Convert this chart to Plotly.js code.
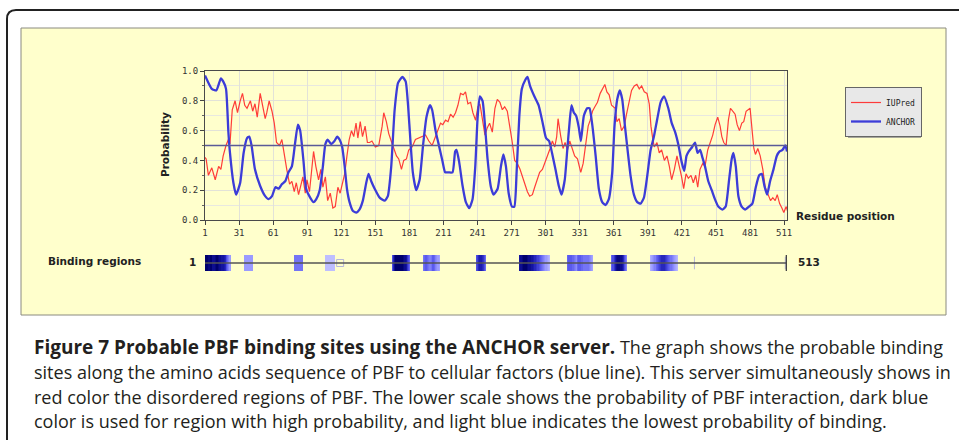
<!DOCTYPE html>
<html>
<head>
<meta charset="utf-8">
<script src="https://cdn.plot.ly/plotly-3.0.1.min.js"></script>
<style>html,body{margin:0;padding:0;background:#fff;}#chart{width:959px;height:440px;}</style>
</head>
<body>
<div id="chart"></div>
<script>
// ---- Data ----
const xTicks = [1, 31, 61, 91, 121, 151, 181, 211, 241, 271, 301, 331, 361, 391, 421, 451, 481, 511];
const yTicks = [0, 0.2, 0.4, 0.6, 0.8, 1.0];
const yTickText = ["0.0", "0.2", "0.4", "0.6", "0.8", "1.0"];
const threshold = 0.5;
const seqLength = 513;

const anchorRes = [1,7,11,15,17,19.5,21.6,23,26,28.4,32,35,38,40,42,45,49.5,54,57,60,63,66,68.6,71.6,74.5,77.5,80.4,82.8,84.8,87.8,90,93.6,96.6,99,102,104.8,107,109,112,115,117.4,119.5,121.8,124,126,128.3,131.3,134.2,137,140,143,145,147.4,150.4,154.8,159.2,162,165,168,171,174.8,177.7,179.8,182,184,187,190,193,196,199,201,204,207,210,212.5,215.4,219,221.3,222.5,224.8,227.8,230.7,233.7,236.6,239,241,243,245.4,247.8,249.8,252.8,255.2,258.7,261.6,263.7,266,268.4,271.3,273.4,275.4,277.8,280,283,285,287.2,291,294.8,298.4,301.3,304,306.6,309.6,312.5,314.9,317.8,320,322,323.7,325.8,327.8,330.2,332,334.6,337.5,339.6,342,345,347.8,350.8,353.7,356.6,359.6,361.6,364,366.3,368.4,370.8,373.4,375.7,378.7,381.6,384.6,387.5,390.5,393.4,396.3,399.3,402.2,405.2,409,412,415,418,420.7,423,425,427,430,432.5,434.8,437,439,441.3,444.2,447.2,450,453,456.6,459.5,462.5,464.8,466.3,468.4,470.7,473.6,476.6,480,483,486,489,491.3,493.6,496,498.6,501.6,504.5,507,509.5,512,513.5];
const anchorVal = [0.97,0.88,0.87,0.95,0.93,0.88,0.59,0.45,0.25,0.17,0.25,0.45,0.55,0.56,0.50,0.34,0.23,0.16,0.14,0.16,0.22,0.21,0.24,0.26,0.32,0.36,0.52,0.64,0.60,0.39,0.21,0.15,0.12,0.14,0.20,0.36,0.51,0.54,0.51,0.53,0.56,0.54,0.49,0.36,0.21,0.12,0.06,0.05,0.07,0.13,0.25,0.31,0.26,0.21,0.15,0.13,0.16,0.36,0.74,0.92,0.96,0.93,0.77,0.52,0.32,0.20,0.27,0.50,0.69,0.77,0.74,0.60,0.50,0.40,0.32,0.32,0.32,0.46,0.47,0.39,0.23,0.12,0.08,0.14,0.36,0.68,0.83,0.80,0.61,0.41,0.22,0.17,0.21,0.36,0.44,0.36,0.18,0.09,0.09,0.32,0.70,0.88,0.94,0.96,0.90,0.83,0.77,0.65,0.55,0.53,0.45,0.34,0.23,0.17,0.27,0.47,0.65,0.77,0.72,0.70,0.62,0.53,0.70,0.75,0.75,0.64,0.43,0.21,0.12,0.10,0.14,0.32,0.63,0.81,0.87,0.81,0.63,0.45,0.30,0.17,0.12,0.11,0.15,0.30,0.47,0.56,0.68,0.79,0.83,0.75,0.65,0.59,0.50,0.39,0.33,0.43,0.46,0.49,0.52,0.45,0.47,0.42,0.36,0.26,0.20,0.14,0.09,0.07,0.09,0.27,0.41,0.45,0.36,0.16,0.09,0.07,0.09,0.11,0.22,0.30,0.31,0.23,0.17,0.26,0.34,0.43,0.46,0.47,0.50,0.46];

const iupredRes = [1,2,4,7,10,13,15,17,19.5,21.6,23,25,27.5,29.6,32,34,36,38,41,43,45,47,49.6,51.6,54,55.4,57.5,60,62,64,66.6,68.7,70.8,73,75.5,77.5,79.6,81.4,83.4,85.5,87.2,89.3,90.8,93,95,96.6,98.6,101,103,104.8,107,109,111.3,113.6,115.7,118,120,122,124,126,128,130,132,134,135.6,137.7,139.7,142,144,146,148,151,154,157,158.4,160.7,162.8,165,167,169.6,171.6,174,176,178.4,180.4,183.4,186.3,189.3,192.2,195.2,198.1,201,204,206,208.4,210.4,212.8,215,217.2,219.5,221.6,223.7,226,228.4,230.4,232.5,234.9,236.9,239.3,241.3,243.1,245.2,247.5,249.6,251.6,254,256.3,258.4,260.7,262.8,264.9,267.2,269.6,271.6,273.7,276,278.4,280.4,282.5,284.9,286.9,289.3,291.3,293.7,295.7,298.1,300.2,302.5,304.9,306.9,309,310.7,311.9,314.3,316.3,318.1,320.2,322.2,324.6,326.5,329,331.9,334,336.3,338.4,340.2,342.2,344.3,346.6,349,351,353.1,354.9,356.9,359,360.7,362.2,363.7,365.7,367.8,370.2,372.2,374.6,376.6,379,381.3,383.4,385.5,387.8,390.2,392.2,393.7,395.2,396.6,399,401,403.1,405.5,407.8,409.9,411.9,414.3,416.6,418.7,420.7,422.5,424.6,426.6,429,431,433.1,434.9,436.9,439.3,441.3,443.7,446,448.1,450.2,452.5,454.6,456.1,457.8,459.9,461.9,463.7,465.7,467.8,469.6,471.6,473.7,475.4,477.5,479,481,482.8,484.3,485.7,487.8,489.9,492.2,494.3,496.6,499,501,503.1,504.9,507,509,510.7,512.8,514];
const iupredVal = [0.42,0.41,0.30,0.35,0.27,0.36,0.34,0.43,0.50,0.54,0.51,0.74,0.80,0.72,0.80,0.85,0.77,0.75,0.80,0.73,0.78,0.69,0.85,0.76,0.68,0.72,0.80,0.73,0.65,0.52,0.50,0.54,0.43,0.34,0.24,0.26,0.19,0.25,0.17,0.25,0.29,0.18,0.27,0.19,0.32,0.46,0.36,0.27,0.34,0.22,0.29,0.13,0.18,0.08,0.09,0.22,0.18,0.25,0.31,0.43,0.54,0.60,0.56,0.65,0.55,0.66,0.56,0.63,0.52,0.52,0.53,0.49,0.50,0.63,0.72,0.66,0.58,0.53,0.48,0.43,0.41,0.34,0.40,0.41,0.47,0.49,0.54,0.55,0.56,0.57,0.53,0.50,0.56,0.60,0.65,0.64,0.67,0.66,0.71,0.69,0.72,0.77,0.85,0.84,0.86,0.78,0.79,0.72,0.67,0.76,0.78,0.68,0.57,0.62,0.65,0.59,0.75,0.81,0.79,0.74,0.76,0.73,0.63,0.52,0.40,0.38,0.34,0.29,0.24,0.19,0.16,0.17,0.22,0.27,0.32,0.34,0.38,0.43,0.48,0.53,0.49,0.56,0.68,0.56,0.48,0.52,0.47,0.53,0.47,0.43,0.41,0.32,0.38,0.52,0.63,0.67,0.73,0.76,0.79,0.85,0.88,0.91,0.86,0.84,0.77,0.76,0.75,0.66,0.68,0.60,0.63,0.71,0.81,0.87,0.90,0.91,0.88,0.90,0.86,0.85,0.78,0.63,0.55,0.49,0.52,0.45,0.47,0.40,0.43,0.36,0.27,0.34,0.43,0.36,0.29,0.21,0.31,0.28,0.30,0.25,0.30,0.22,0.34,0.38,0.36,0.47,0.52,0.57,0.64,0.69,0.63,0.56,0.52,0.50,0.67,0.75,0.73,0.71,0.64,0.60,0.65,0.66,0.73,0.74,0.75,0.60,0.48,0.44,0.48,0.43,0.34,0.22,0.18,0.13,0.15,0.13,0.17,0.11,0.08,0.05,0.09,0.06];

// Binding regions: start residue and per-residue intensity (0 = light, 1 = dark)
const bindStarts = [1, 36, 80, 107, 166, 193, 240, 278, 320, 359, 393];
const bindScores = [
  [1,1,1,0.95,0.95,1,1,0.9,0.9,0.95,1,1,0.95,0.9,0.9,0.85,0.85,0.8,0.75,0.6,0.5,0.4,0.3],
  [0.3,0.3,0.3,0.3,0.3,0.3,0.3,0.3],
  [0.45,0.45,0.45,0.45,0.45,0.45,0.45,0.45],
  [0.12,0.12,0.12,0.12,0.12,0.12,0.12,0.12,0.12],
  [0.6,0.75,0.9,1,1,1,1,1,1,1,0.95,0.9,0.85,0.7,0.6,0.5],
  [0.45,0.5,0.55,0.55,0.5,0.45,0.4,0.45,0.55,0.55,0.5,0.4,0.35,0.3,0.25],
  [0.6,0.65,0.75,0.8,0.8,0.75,0.7,0.6,0.5],
  [0.85,0.9,0.95,1,1,1,1,0.95,0.9,0.9,0.85,0.85,0.8,0.75,0.75,0.7,0.65,0.6,0.55,0.5,0.45,0.4,0.35,0.3,0.25,0.2,0.15],
  [0.5,0.55,0.55,0.55,0.5,0.5,0.45,0.4,0.35,0.5,0.55,0.55,0.5,0.5,0.45,0.45,0.45,0.45,0.45,0.4,0.35,0.3,0.25],
  [0.5,0.6,0.7,0.8,0.9,0.95,0.95,0.95,0.9,0.85,0.75,0.6,0.5,0.4],
  [0.2,0.25,0.3,0.35,0.4,0.5,0.55,0.6,0.65,0.7,0.75,0.75,0.75,0.7,0.65,0.6,0.55,0.5,0.45,0.4,0.35,0.3,0.25,0.2,0.15]
];
const weakSites = [120, 432, 512];

const captionLines = [
  "<span style=\"font-size:19px\"><b>Figure 7 Probable PBF binding sites using the ANCHOR server.</b></span> The graph shows the probable binding",
  "sites along the amino acids sequence of PBF to cellular factors (blue line). This server simultaneously shows in",
  "red color the disordered regions of PBF. The lower scale shows the probability of PBF interaction, dark blue",
  "color is used for region with high probability, and light blue indicates the lowest probability of binding."
];

// ---- Build ----
const W = 959, H = 440;
const px = v => v / W;
const py = v => 1 - v / H;

const resAll = [];
const zRow = [];
for (let r = 1; r <= seqLength; r++) { resAll.push(r); zRow.push(null); }
bindStarts.forEach((s, i) => {
  bindScores[i].forEach((v, k) => { zRow[s - 1 + k] = v; });
});

const mono = "DejaVu Sans Mono, monospace";
const sans = "DejaVu Sans, Verdana, sans-serif";

const traces = [
  {type: "scatter", mode: "lines", name: "IUPred", x: iupredRes, y: iupredVal,
   line: {color: "rgba(255,40,40,0.9)", width: 1.2}, hoverinfo: "skip"},
  {type: "scatter", mode: "lines", name: "ANCHOR", x: anchorRes, y: anchorVal,
   line: {color: "#3c3cd8", width: 2.3, shape: "spline", smoothing: 0.5}, hoverinfo: "skip"},
  {type: "heatmap", x: resAll, y: [0], z: [zRow], xaxis: "x2", yaxis: "y2",
   zmin: 0, zmax: 1, showscale: false, hoverinfo: "skip", showlegend: false,
   colorscale: [[0, "#d6d6ff"], [0.3, "#9a9aff"], [0.55, "#5a5aee"], [0.8, "#1a1ab0"], [1, "#00006e"]]},
  {type: "scatter", mode: "markers", x: weakSites, y: weakSites.map(() => 0), xaxis: "x2", yaxis: "y2",
   showlegend: false, hoverinfo: "skip",
   marker: {symbol: ["square-open", "line-ns-open", "line-ns-open"], size: [7, 9, 9],
            color: "#9a9ae0", line: {color: "#9a9ae0", width: 1}}}
];

const xDom = [px(205), px(787)];
const annotations = [
  {text: "<b>Probability</b>", x: px(165), y: py(145), textangle: -90, font: {family: sans, size: 10.5, color: "#222"}},
  {text: "<b>Residue position</b>", x: px(794), y: py(216), xanchor: "left", font: {family: sans, size: 10.5, color: "#222"}},
  {text: "<b>Binding regions</b>", x: px(46), y: py(261), xanchor: "left", font: {family: sans, size: 10.5, color: "#222"}},
  {text: "<b>1</b>", x: px(192), y: py(262), font: {family: sans, size: 10.5, color: "#222"}},
  {text: "<b>513</b>", x: px(796), y: py(262), xanchor: "left", font: {family: sans, size: 10.5, color: "#222"}}
];
const capY = [347, 372, 397, 421];
captionLines.forEach((t, i) => {
  annotations.push({text: t, x: px(32), y: py(capY[i]), xanchor: "left", yanchor: "middle",
    font: {family: "Open Sans, sans-serif", size: 18, color: "#231f20"}});
});
annotations.forEach(a => { a.xref = "paper"; a.yref = "paper"; a.showarrow = false; if (!a.yanchor) a.yanchor = "middle"; if (!a.xanchor) a.xanchor = "center"; });

const shapes = [
  {type: "rect", xref: "paper", yref: "paper", x0: px(21), x1: px(946), y0: py(315), y1: py(28),
   fillcolor: "#ffffcc", line: {color: "#8a8a80", width: 1}, layer: "below"},
  {type: "path", xref: "paper", yref: "paper",
   path: `M ${px(7)} ${py(440)} L ${px(7)} ${py(19)} Q ${px(7)} ${py(10)} ${px(16)} ${py(10)} L ${px(959)} ${py(10)}`,
   line: {color: "#222", width: 2}, layer: "below"},
  {type: "line", xref: "x domain", yref: "y", x0: 0, x1: 1, y0: threshold, y1: threshold,
   line: {color: "#5a5a98", width: 1.5}, layer: "above"},
  {type: "line", xref: "x2", yref: "y2", x0: 1, x1: seqLength, y0: 0, y1: 0,
   line: {color: "#555", width: 1.5}, layer: "above"},
  {type: "line", xref: "x2", yref: "y2", x0: seqLength, x1: seqLength, y0: -0.55, y1: 0.55,
   line: {color: "#444", width: 1.5}, layer: "above"},
  {type: "rect", xref: "paper", yref: "paper", x0: px(848), x1: px(921), y0: py(138), y1: py(90),
   fillcolor: "#a8a89c", line: {width: 0}, layer: "above"}
];

const layout = {
  width: W, height: H,
  margin: {l: 0, r: 0, t: 0, b: 0, pad: 0},
  paper_bgcolor: "#ffffff",
  plot_bgcolor: "#fffff0",
  showlegend: true,
  legend: {x: px(845), y: py(87), xanchor: "left", yanchor: "top",
           bgcolor: "#e8e8e8", bordercolor: "#666", borderwidth: 1,
           font: {family: mono, size: 8, color: "#222"}, itemwidth: 30, tracegroupgap: 0},
  xaxis: {domain: xDom, range: [1, 513.5], anchor: "y", tickmode: "array", tickvals: xTicks,
          ticks: "outside", ticklen: 4, tickcolor: "#444", showgrid: true, gridcolor: "#e2e2d8",
          showline: true, mirror: true, linecolor: "#4a4a4a", linewidth: 1, zeroline: false,
          tickfont: {family: mono, size: 9, color: "#333"}, fixedrange: true},
  yaxis: {domain: [py(220), py(71)], range: [0, 1], anchor: "x", tickmode: "array",
          tickvals: yTicks, ticktext: yTickText,
          ticks: "outside", ticklen: 4, tickcolor: "#444", showgrid: true, gridcolor: "#e2e2d8",
          minor: {dtick: 0.1, showgrid: true, gridcolor: "#e8e8e0", ticks: "outside", ticklen: 2, tickcolor: "#666"},
          showline: true, mirror: true, linecolor: "#4a4a4a", linewidth: 1, zeroline: false,
          tickfont: {family: mono, size: 9, color: "#333"}, fixedrange: true},
  xaxis2: {domain: xDom, range: [1, 513.5], anchor: "y2", visible: false, fixedrange: true},
  yaxis2: {domain: [py(271), py(255)], range: [-0.5, 0.5], anchor: "x2", visible: false, fixedrange: true},
  shapes: shapes,
  annotations: annotations
};

Plotly.newPlot("chart", traces, layout, {displayModeBar: false, staticPlot: true});
</script>
</body>
</html>
